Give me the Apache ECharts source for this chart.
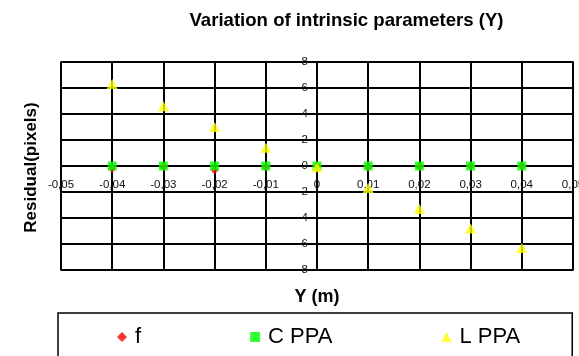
<!DOCTYPE html>
<html><head><meta charset="utf-8">
<script src="https://cdn.jsdelivr.net/npm/echarts@6/dist/echarts.min.js"></script>
<style>html,body{margin:0;padding:0;background:#fff}#c{width:579px;height:356px}</style>
</head><body><div id="c"></div>
<script>
const xValues = [-0.04, -0.03, -0.02, -0.01, 0, 0.01, 0.02, 0.03, 0.04];
const fValues = [-0.2, -0.05, -0.3, -0.1, 0, -0.1, -0.05, 0, 0];
const cppaValues = [0, 0, 0, 0, 0, 0, 0, 0, 0];
const lppaValues = [6.3, 4.6, 3.0, 1.4, -0.1, -1.7, -3.3, -4.8, -6.3];
const seriesNames = ['f', 'C PPA', 'L PPA'];

const F = 'Liberation Sans, Arial, sans-serif';
const chart = echarts.init(document.getElementById('c'));
const pairs = ys => xValues.map((x, i) => [x, ys[i]]);
const xFmt = v => Math.abs(v) < 1e-9 ? '0' : v.toFixed(2).replace('.', ',');

// grid geometry
const G = { left: 61, right: 6, top: 62, bottom: 86 };
const W = 579, H = 356;
const gridW = W - G.left - G.right, gridH = H - G.top - G.bottom;
const xMin = -0.05, xMax = 0.05, yMin = -8, yMax = 8;
// offsets that place the axes where value 0 lies (axes cross at the origin)
const xAxisOffset = -gridH * (0 - yMin) / (yMax - yMin);
const yAxisOffset = -gridW * (0 - xMin) / (xMax - xMin);

chart.setOption({
  animation: false,
  textStyle: { fontFamily: F },
  title: {
    text: 'Variation of intrinsic parameters (Y)', left: 341.5, textAlign: 'center', top: 6,
    textStyle: { fontFamily: F, fontSize: 18.6, fontWeight: 'bold', color: '#000' }
  },
  grid: Object.assign({ show: true, borderColor: '#000', borderWidth: 1.5, backgroundColor: '#fff', containLabel: false, outerBoundsMode: 'none' }, G),
  xAxis: {
    type: 'value', min: xMin, max: xMax, interval: 0.01, position: 'bottom', offset: xAxisOffset,
    axisLine: { onZero: false, lineStyle: { color: '#000', width: 2 } },
    axisTick: { show: false },
    splitLine: { show: true, lineStyle: { color: '#000', width: 2 } },
    axisLabel: { formatter: xFmt, fontSize: 11.5, color: '#111', margin: 13, showMinLabel: true, showMaxLabel: true, fontFamily: F }
  },
  yAxis: {
    type: 'value', min: yMin, max: yMax, interval: 2, position: 'left', offset: yAxisOffset,
    axisLine: { onZero: false, lineStyle: { color: '#000', width: 2 } },
    axisTick: { show: true, length: 4, lineStyle: { color: '#000', width: 1.5 } },
    splitLine: { show: true, lineStyle: { color: '#000', width: 2 } },
    axisLabel: { fontSize: 11.5, color: '#111', margin: 9, fontFamily: F }
  },
  legend: {
    left: 58, top: 313,
    padding: [12, 52, 20, 59],
    borderColor: '#000', borderWidth: 1.5, borderRadius: 0,
    itemGap: 109, itemWidth: 10, itemHeight: 10,
    textStyle: { fontFamily: F, fontSize: 22, color: '#000', lineHeight: 24, padding: [0, 0, 0, 3] },
    data: [
      { name: seriesNames[0], icon: 'diamond' },
      { name: seriesNames[1], icon: 'rect' },
      { name: seriesNames[2], icon: 'triangle' }
    ]
  },
  graphic: [
    { type: 'text', x: 317, y: 297, style: { text: 'Y (m)', font: 'bold 18px ' + F, fill: '#000', align: 'center', verticalAlign: 'middle' } },
    { type: 'text', x: 31.5, y: 167.5, rotation: Math.PI / 2, style: { text: 'Residual(pixels)', font: 'bold 17px ' + F, fill: '#000', align: 'center', verticalAlign: 'middle' } }
  ],
  series: [
    { name: seriesNames[0], type: 'scatter', z: 2, symbol: 'diamond', symbolSize: [8, 9], itemStyle: { color: '#ff0000' }, data: pairs(fValues) },
    { name: seriesNames[1], type: 'scatter', z: 3, symbol: 'rect', symbolSize: 9, itemStyle: { color: '#00ff00' }, data: pairs(cppaValues) },
    { name: seriesNames[2], type: 'scatter', z: 4, symbol: 'triangle', symbolSize: [11, 10], itemStyle: { color: '#ffff00' }, data: pairs(lppaValues) }
  ]
});
</script></body></html>
